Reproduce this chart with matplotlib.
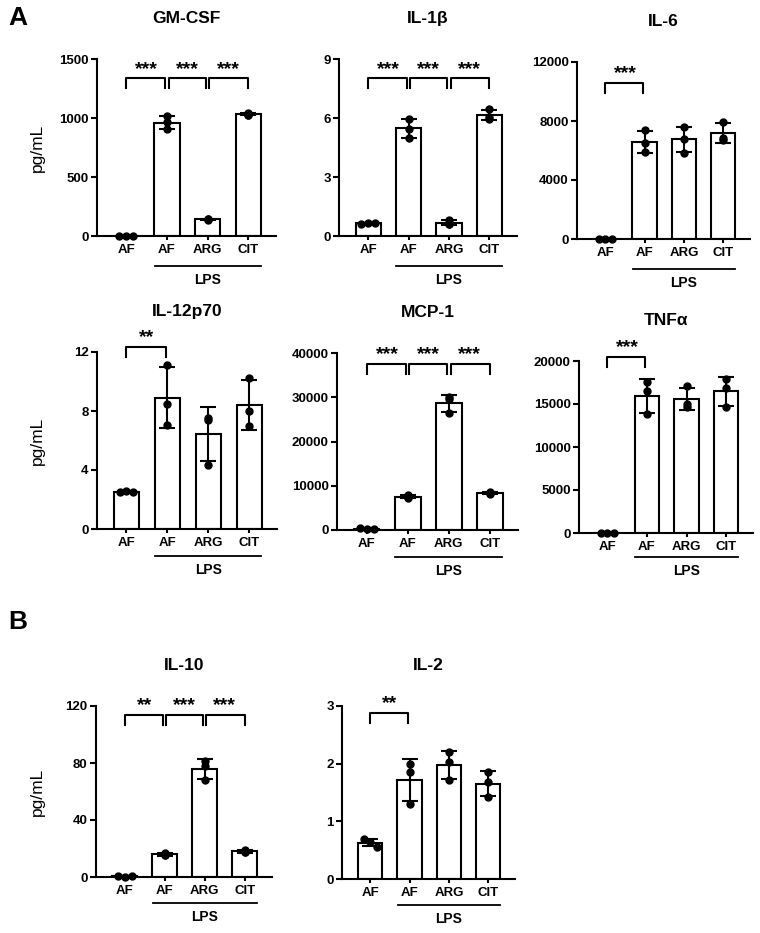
import numpy as np
import matplotlib.pyplot as plt

plt.rcParams['font.family'] = ['Liberation Sans', 'DejaVu Sans']
plt.rcParams['font.weight'] = 'bold'
plt.rcParams['axes.linewidth'] = 1.5

groups = ['AF', 'AF', 'ARG', 'CIT']

# replicate values (pg/mL), one list of three per group
gm_csf = [[0, 0, 0], [1015, 965, 905], [145, 140, 138], [1040, 1025, 1028]]
il_1b = [[0.63, 0.64, 0.65], [5.95, 5.45, 5.0], [0.82, 0.62, 0.6], [6.45, 6.05, 5.95]]
il_6 = [[15, 10, 20], [7400, 6500, 5900], [7600, 6800, 5850], [7950, 6850, 6700]]
il_12p70 = [[2.5, 2.55, 2.5], [11.15, 8.5, 7.05], [7.55, 4.35, 7.4], [10.25, 8.0, 6.95]]
mcp_1 = [[500, 200, 250], [7900, 7400, 7300], [30000, 29500, 26500], [8600, 8300, 8100]]
tnfa = [[20, 10, 15], [17600, 16500, 13800], [17100, 15000, 14650], [17900, 16900, 14600]]
il_10 = [[0.5, 0.3, 0.5], [17, 15.5, 15.3], [81.5, 78, 68], [18.8, 17.8, 17.2]]
il_2 = [[0.69, 0.64, 0.56], [2.0, 1.85, 1.3], [2.2, 2.03, 1.72], [1.86, 1.68, 1.42]]

yticks_gm = [0, 500, 1000, 1500]
yticks_1b = [0, 3, 6, 9]
yticks_6 = [0, 4000, 8000, 12000]
yticks_12 = [0, 4, 8, 12]
yticks_mcp = [0, 10000, 20000, 30000, 40000]
yticks_tnf = [0, 5000, 10000, 15000, 20000]
yticks_10 = [0, 40, 80, 120]
yticks_2 = [0, 1, 2, 3]

sig_three = [(0, 1, '***'), (1, 2, '***'), (2, 3, '***')]
sig_10 = [(0, 1, '**'), (1, 2, '***'), (2, 3, '***')]

W, H = 760, 933
fig = plt.figure(figsize=(W / 100, H / 100), dpi=100)


def make_axes(left, top, right, bottom):
    return fig.add_axes([left / W, 1 - bottom / H, (right - left) / W, (bottom - top) / H])


def panel(rect, title, data, yticks, sigs, br_top, ylab=False, lps_px=30):
    ax = make_axes(*rect)
    x = np.arange(len(groups))
    means = [np.mean(d) for d in data]
    sds = [np.std(d, ddof=1) for d in data]
    ax.bar(x, means, width=0.62, color='white', edgecolor='black', linewidth=1.5, zorder=2)
    ax.errorbar(x, means, yerr=sds, fmt='none', ecolor='black', elinewidth=1.5,
                capsize=6, capthick=1.5, zorder=3)
    for i, d in enumerate(data):
        # the control dots sit side by side, the others are stacked
        if i == 0:
            xs = i + np.array([-0.17, 0, 0.17])
        else:
            xs = np.full(3, i)
        ax.plot(xs, d, 'o', color='black', ms=5, zorder=4, clip_on=False)
    ax.set_xlim(-0.72, 3.68)
    ax.set_ylim(0, yticks[-1])
    ax.set_yticks(yticks)
    ax.set_xticks(x)
    ax.set_xticklabels(groups)
    ax.tick_params(axis='both', labelsize=9.5, width=1.5, length=4, pad=2)
    ax.tick_params(axis='x', length=3, pad=3)
    for s in ['top', 'right']:
        ax.spines[s].set_visible(False)
    ax.set_title(title, fontsize=12.5, fontweight='bold', pad=26)
    if ylab:
        ax.set_ylabel('pg/mL', fontsize=12.5, fontweight='normal')
        ax.yaxis.set_label_coords(-0.29, 0.5)

    tr = ax.get_xaxis_transform()
    h_px = rect[3] - rect[1]
    drop = 10 / h_px
    for i, j, lab in sigs:
        a = i + (0.04 if i > 0 else 0)
        b = j - (0.04 if j < 3 else 0)
        ax.plot([a, a, b, b], [br_top - drop, br_top, br_top, br_top - drop],
                color='black', lw=1.5, transform=tr, clip_on=False)
        ax.text((i + j) / 2, br_top + 0.005, lab, ha='center', va='bottom',
                fontsize=14, transform=tr)

    ly = -lps_px / h_px
    ax.plot([0.7, 3.3], [ly, ly], color='black', lw=1.3, transform=tr, clip_on=False)
    ax.text(2.0, ly - 7 / h_px, 'LPS', ha='center', va='top', fontsize=10, transform=tr)
    return ax


panel((97, 59, 276, 236), 'GM-CSF', gm_csf, yticks_gm, sig_three, 0.89, ylab=True)
panel((339, 59, 517, 236), 'IL-1\u03b2', il_1b, yticks_1b, sig_three, 0.89)
panel((577, 62, 750, 239), 'IL-6', il_6, yticks_6, [(0, 1, '***')], 0.88)

panel((97, 352, 277, 529), 'IL-12p70', il_12p70, yticks_12, [(0, 1, '**')], 1.027,
      ylab=True, lps_px=27)
panel((337, 353, 518, 530), 'MCP-1', mcp_1, yticks_mcp, sig_three, 0.94, lps_px=27)
panel((579, 361, 753, 533), 'TNF\u03b1', tnfa, yticks_tnf, [(0, 1, '***')], 1.025, lps_px=24)

panel((96, 706, 272, 877), 'IL-10', il_10, yticks_10, sig_10, 0.95, ylab=True, lps_px=26)
panel((342, 706, 515, 879), 'IL-2', il_2, yticks_2, [(0, 1, '**')], 0.96, lps_px=26)

fig.text(8 / W, 1 - 18 / H, 'A', fontsize=19, fontweight='bold', va='center', ha='left')
fig.text(8 / W, 1 - 622 / H, 'B', fontsize=19, fontweight='bold', va='center', ha='left')

fig.savefig('out.png', dpi=100, facecolor='white')
